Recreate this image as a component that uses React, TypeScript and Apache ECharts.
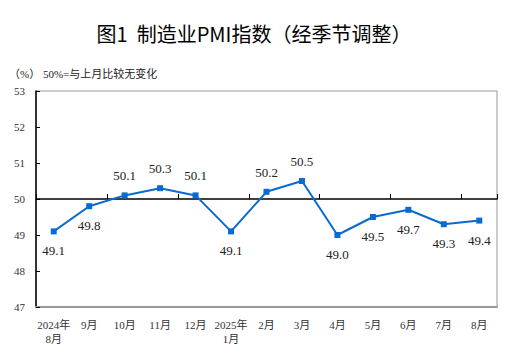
import React, { useEffect, useRef } from "react";
import * as echarts from "echarts";

const categories = ["2024年\n8月", "9月", "10月", "11月", "12月", "2025年\n1月", "2月", "3月", "4月", "5月", "6月", "7月", "8月"];
const pmiValues = [49.1, 49.8, 50.1, 50.3, 50.1, 49.1, 50.2, 50.5, 49.0, 49.5, 49.7, 49.3, 49.4];
const labelSides = ["bottom", "bottom", "top", "top", "top", "bottom", "top", "top", "bottom", "bottom", "bottom", "bottom", "bottom"];
const yTicks = { min: 47, max: 53, interval: 1 };

const SERIF = "'Liberation Serif', 'Noto Sans CJK SC', serif";

export default function App() {
  const ref = useRef<HTMLDivElement>(null);
  useEffect(() => {
    if (!ref.current) return;
    const chart = echarts.init(ref.current, undefined, { renderer: "svg" });
    chart.setOption({
      animation: false,
      backgroundColor: "#fff",
      title: [
        {
          text: "图1  制造业PMI指数（经季节调整）",
          left: "center",
          top: 18,
          textStyle: { fontFamily: "'Noto Sans CJK SC', sans-serif", fontSize: 20, fontWeight: "normal", color: "#000" },
        },
        {
          text: "（%） 50%=与上月比较无变化",
          left: 4,
          top: 63,
          textStyle: { fontFamily: SERIF, fontSize: 11, fontWeight: "normal", color: "#222" },
        },
      ],
      grid: [
        { left: 36, right: 11, top: 91, bottom: 44, show: true, borderColor: "#999", borderWidth: 1, backgroundColor: "transparent" },
        { left: 36, right: 11, top: 91, bottom: 152, show: false },
      ],
      xAxis: [
        {
          type: "category",
          gridIndex: 0,
          data: categories,
          boundaryGap: true,
          axisLine: { show: true, lineStyle: { color: "#999", width: 2 } },
          axisTick: { show: false },
          axisLabel: { fontFamily: SERIF, fontSize: 11, color: "#333", margin: 11, lineHeight: 14, interval: 0 },
          splitLine: { show: false },
        },
        {
          type: "category",
          gridIndex: 1,
          data: categories,
          boundaryGap: true,
          axisLine: { show: true, lineStyle: { color: "#000", width: 1.5 } },
          axisTick: { show: true, inside: true, length: 5, lineStyle: { color: "#000" } },
          axisLabel: { show: false },
          splitLine: { show: false },
        },
      ],
      yAxis: [
        {
          type: "value",
          gridIndex: 0,
          min: yTicks.min,
          max: yTicks.max,
          interval: yTicks.interval,
          axisLine: { show: true, lineStyle: { color: "#000", width: 1.5 } },
          axisTick: { show: true, inside: true, length: 4, lineStyle: { color: "#000" } },
          axisLabel: { fontFamily: SERIF, fontSize: 11, color: "#333", margin: 11 },
          splitLine: { show: false },
        },
        { type: "value", gridIndex: 1, show: false, min: 49, max: 50 },
      ],
      series: [
        {
          type: "line",
          xAxisIndex: 0,
          yAxisIndex: 0,
          data: pmiValues.map((v, i) => ({
            value: v,
            label: { position: labelSides[i] },
          })),
          symbol: "rect",
          symbolSize: 6,
          lineStyle: { color: "#0a6ad0", width: 2 },
          itemStyle: { color: "#0a6ad0" },
          label: {
            show: true,
            distance: 10,
            fontFamily: SERIF,
            fontSize: 13,
            color: "#222",
            formatter: (p: any) => Number(p.value).toFixed(1),
          },
          z: 5,
        },
      ],
    });
    return () => chart.dispose();
  }, []);
  return <div ref={ref} style={{ width: 508, height: 351, position: "absolute", left: 0, top: 0 }} />;
}
